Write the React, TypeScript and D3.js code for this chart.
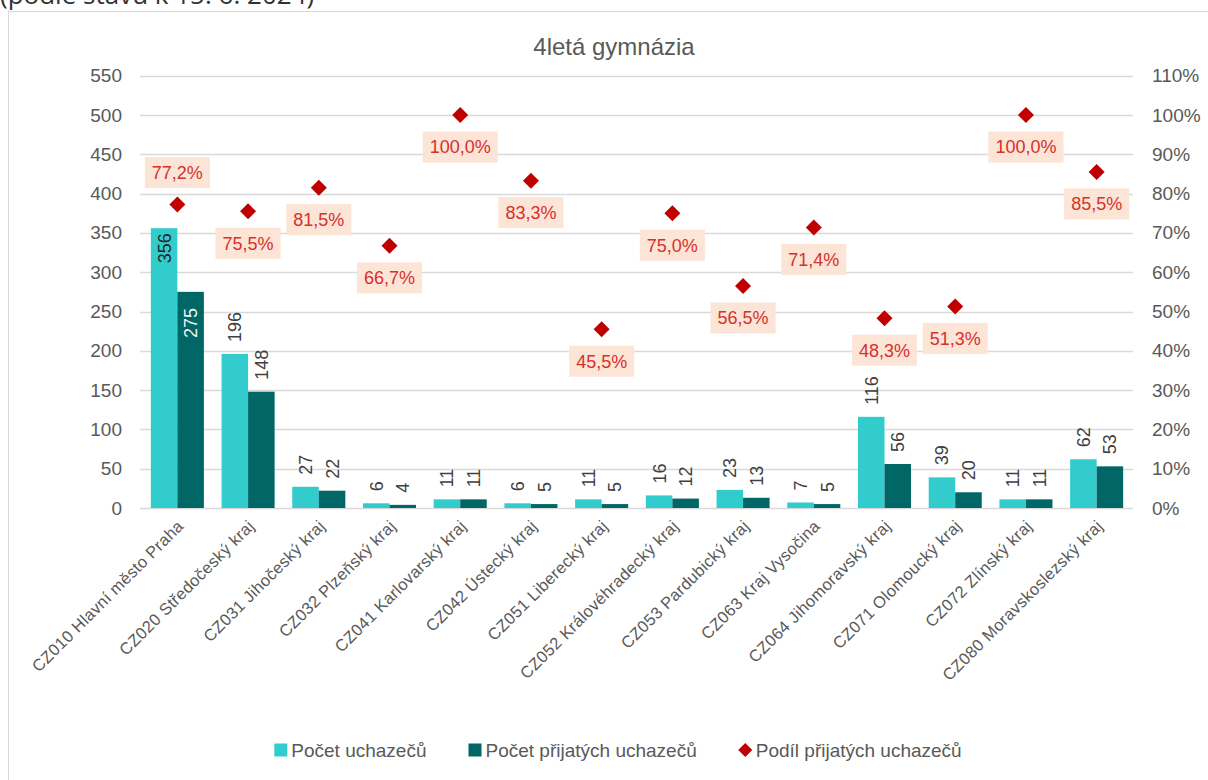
import { useEffect, useRef } from 'react';
import * as d3 from 'd3';

const categories = [
  'CZ010 Hlavní město Praha',
  'CZ020 Středočeský kraj',
  'CZ031 Jihočeský kraj',
  'CZ032 Plzeňský kraj',
  'CZ041 Karlovarský kraj',
  'CZ042 Ústecký kraj',
  'CZ051 Liberecký kraj',
  'CZ052 Královéhradecký kraj',
  'CZ053 Pardubický kraj',
  'CZ063 Kraj Vysočina',
  'CZ064 Jihomoravský kraj',
  'CZ071 Olomoucký kraj',
  'CZ072 Zlínský kraj',
  'CZ080 Moravskoslezský kraj',
];
const applicants = [356, 196, 27, 6, 11, 6, 11, 16, 23, 7, 116, 39, 11, 62];
const admitted = [275, 148, 22, 4, 11, 5, 5, 12, 13, 5, 56, 20, 11, 53];
const share = [77.2, 75.5, 81.5, 66.7, 100.0, 83.3, 45.5, 75.0, 56.5, 71.4, 48.3, 51.3, 100.0, 85.5];
const leftTicks = [0, 50, 100, 150, 200, 250, 300, 350, 400, 450, 500, 550];
const rightTicks = [0, 10, 20, 30, 40, 50, 60, 70, 80, 90, 100, 110];
const seriesNames = ['Počet uchazečů', 'Počet přijatých uchazečů', 'Podíl přijatých uchazečů'];

const title = '4letá gymnázia';
const subtitle = '(podle stavu k 15. 6. 2024)';

const CYAN = '#33CCCC';
const TEAL = '#006666';
const RED = '#C00000';
const GRID = '#D9D9D9';
const AXIS_TEXT = '#595959';
const FONT = '"Liberation Sans", Arial, sans-serif';

// labels of the share series that sit above the marker
const labelsAbove = new Set(['CZ010 Hlavní město Praha']);
// bars whose value is written inside the bar
const insideLabels = new Set(['CZ010 Hlavní město Praha']);

const diamond = (cx, cy, r) => `M${cx},${cy - r}L${cx + r},${cy}L${cx},${cy + r}L${cx - r},${cy}Z`;
const fmtPct = (v) => v.toFixed(1).replace('.', ',') + '%';

const Chart = () => {
  const ref = useRef(null);

  useEffect(() => {
    if (!ref.current) return;
    const width = 1208;
    const height = 780;
    const svg = d3.select(ref.current).attr('width', width).attr('height', height);
    svg.selectAll('*').remove();

    const plot = { left: 142, right: 1132, top: 75.7, bottom: 508 };

    // subtitle of the page above the chart, cut by the top edge as in the screenshot
    svg.append('text')
      .attr('x', 0).attr('y', 4)
      .attr('font-family', '"Open Sans", sans-serif')
      .attr('font-size', 26)
      .attr('fill', '#333')
      .text(subtitle);

    // chart area frame
    svg.append('rect')
      .attr('x', 8.5).attr('y', 11.5)
      .attr('width', 1220).attr('height', 800)
      .attr('fill', '#fff')
      .attr('stroke', GRID);

    svg.append('text')
      .attr('x', 614).attr('y', 55)
      .attr('text-anchor', 'middle')
      .attr('font-family', FONT)
      .attr('font-size', 24)
      .attr('fill', AXIS_TEXT)
      .text(title);

    const x = d3.scaleBand()
      .domain(categories)
      .range([plot.left, plot.right])
      .paddingInner(0.25)
      .paddingOuter(0.125);
    const xs = d3.scaleBand().domain(['a', 'b']).range([0, x.bandwidth()]);
    const y = d3.scaleLinear().domain([0, 550]).range([plot.bottom, plot.top]);
    const yr = d3.scaleLinear().domain([0, 110]).range([plot.bottom, plot.top]);

    // gridlines
    svg.append('g')
      .selectAll('line')
      .data(leftTicks)
      .join('line')
      .attr('x1', plot.left - 2).attr('x2', plot.right + 1)
      .attr('y1', (d) => Math.round(y(d)) + 0.5)
      .attr('y2', (d) => Math.round(y(d)) + 0.5)
      .attr('stroke', GRID)
      .attr('stroke-width', 1.3);

    const axL = svg.append('g')
      .attr('transform', `translate(${plot.left},0)`)
      .call(d3.axisLeft(y).tickValues(leftTicks).tickSize(0).tickPadding(20));
    axL.select('.domain').remove();
    axL.selectAll('text')
      .attr('font-family', FONT).attr('font-size', 19).attr('fill', AXIS_TEXT);

    const axR = svg.append('g')
      .attr('transform', `translate(${plot.right},0)`)
      .call(d3.axisRight(yr).tickValues(rightTicks).tickSize(0).tickPadding(20).tickFormat((d) => d + '%'));
    axR.select('.domain').remove();
    axR.selectAll('text')
      .attr('font-family', FONT).attr('font-size', 19).attr('fill', AXIS_TEXT);

    const rows = categories.map((c, i) => ({ c, a: applicants[i], b: admitted[i], s: share[i] }));

    // bars
    const g = svg.append('g');
    const groups = g.selectAll('g.grp').data(rows).join('g')
      .attr('transform', (d) => `translate(${x(d.c)},0)`);
    groups.append('rect')
      .attr('x', xs('a')).attr('width', xs.bandwidth())
      .attr('y', (d) => y(d.a)).attr('height', (d) => y(0) - y(d.a))
      .attr('fill', CYAN);
    groups.append('rect')
      .attr('x', xs('b')).attr('width', xs.bandwidth())
      .attr('y', (d) => y(d.b)).attr('height', (d) => y(0) - y(d.b))
      .attr('fill', TEAL);

    // bar value labels (rotated)
    const barLabel = (key, val, insideGap, insideColor) => {
      groups.append('text')
        .attr('transform', (d) => {
          const cx = xs(key) + xs.bandwidth() / 2;
          const inside = insideLabels.has(d.c);
          const yy = inside ? y(d[val]) + insideGap : y(d[val]) - 12;
          return `translate(${cx},${yy}) rotate(-90)`;
        })
        .attr('text-anchor', (d) => (insideLabels.has(d.c) ? 'end' : 'start'))
        .attr('dy', '0.36em')
        .attr('font-family', FONT)
        .attr('font-size', 18)
        .attr('fill', (d) => (insideLabels.has(d.c) ? insideColor : '#404040'))
        .text((d) => d[val]);
    };
    barLabel('a', 'a', 5, '#262626');
    barLabel('b', 'b', 16, '#F2F2F2');

    // share markers
    const cxOf = (d) => x(d.c) + x.bandwidth() / 2;
    svg.append('g')
      .selectAll('path')
      .data(rows)
      .join('path')
      .attr('d', (d) => diamond(cxOf(d), yr(d.s), 8))
      .attr('fill', RED);

    // share labels in boxes
    const lg = svg.append('g')
      .selectAll('g')
      .data(rows)
      .join('g')
      .attr('transform', (d) => `translate(${cxOf(d)},${yr(d.s) + (labelsAbove.has(d.c) ? -32 : 32)})`);
    lg.append('rect').attr('fill', '#FCE4D6');
    lg.append('text')
      .attr('text-anchor', 'middle')
      .attr('dy', '0.36em')
      .attr('font-family', FONT)
      .attr('font-size', 18)
      .attr('fill', '#D6312D')
      .text((d) => fmtPct(d.s));
    lg.each(function () {
      const grp = d3.select(this);
      const w = grp.select('text').node().getComputedTextLength() + 14;
      grp.select('rect')
        .attr('x', -w / 2).attr('y', -15.5)
        .attr('width', w).attr('height', 31);
    });

    // category labels
    svg.append('g')
      .selectAll('text')
      .data(categories)
      .join('text')
      .attr('transform', (d) => `translate(${x(d) + x.bandwidth() / 2 + 3},${plot.bottom + 15}) rotate(-45)`)
      .attr('text-anchor', 'end')
      .attr('dy', '0.36em')
      .attr('font-family', FONT)
      .attr('font-size', 16.5)
      .attr('letter-spacing', 0.3)
      .attr('fill', AXIS_TEXT)
      .text((d) => d);

    // legend
    const leg = svg.append('g');
    const legColors = [CYAN, TEAL, RED];
    const items = seriesNames.map((name, i) => {
      const it = leg.append('g');
      if (i < 2) {
        it.append('rect').attr('x', 0).attr('y', -6.5).attr('width', 13).attr('height', 13).attr('fill', legColors[i]);
      } else {
        it.append('path').attr('d', diamond(6.5, 0, 7)).attr('fill', legColors[i]);
      }
      const t = it.append('text')
        .attr('x', 17).attr('dy', '0.36em')
        .attr('font-family', FONT)
        .attr('font-size', 19)
        .attr('fill', AXIS_TEXT)
        .text(name);
      return { it, w: 17 + t.node().getComputedTextLength() };
    });
    const gap = 42;
    const total = d3.sum(items, (d) => d.w) + gap * (items.length - 1);
    let cur = 618 - total / 2;
    items.forEach((d) => {
      d.it.attr('transform', `translate(${cur},750)`);
      cur += d.w + gap;
    });
  }, []);

  return <svg ref={ref} style={{ position: 'absolute', left: 0, top: 0 }} />;
};

export default function App() {
  return <Chart />;
}
